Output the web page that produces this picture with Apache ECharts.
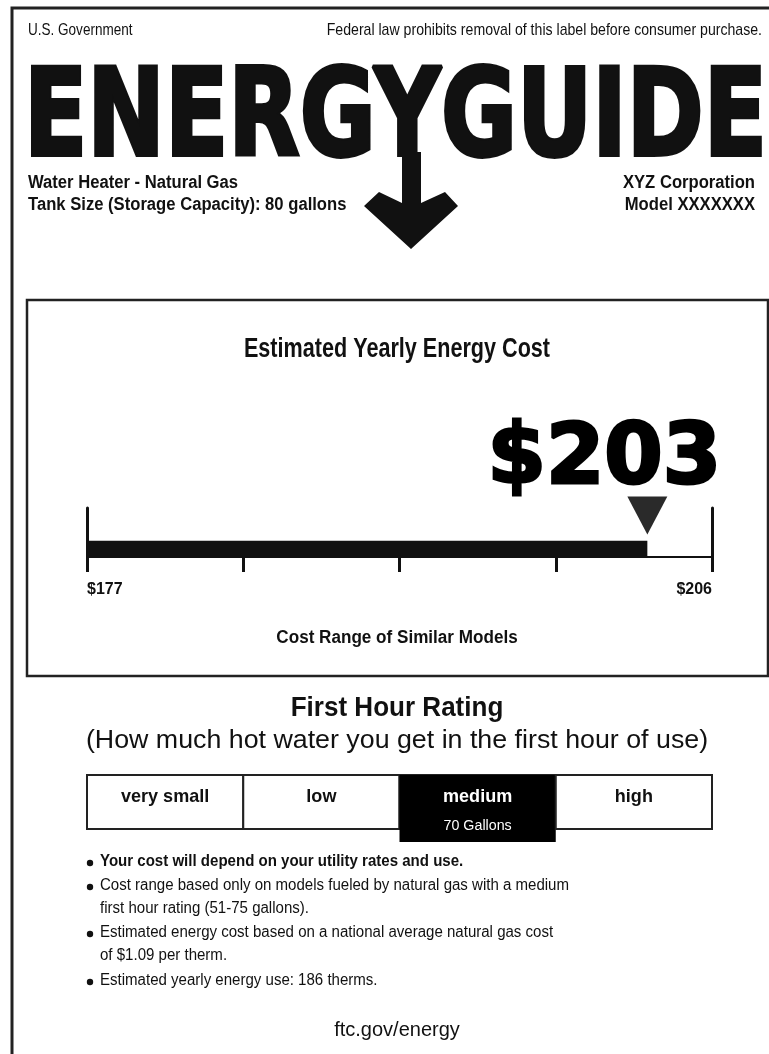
<!DOCTYPE html>
<html>
<head>
<meta charset="utf-8">
<script src="https://cdn.jsdelivr.net/npm/echarts@6/dist/echarts.min.js"></script>
<style>
  html, body { margin: 0; padding: 0; background: #fff; }
  #main { width: 769px; height: 1054px; }
</style>
</head>
<body>
<div id="main"></div>
<script>
// label values
var costMin = 177;
var costMax = 206;
var costEstimate = 203;
var costTicks = [177, 184.25, 191.5, 198.75, 206];
var ratingLevels = ['very small', 'low', 'medium', 'high'];
var ratingSelected = 'medium';
var firstHourGallons = 70;
var productLines = ['Water Heater - Natural Gas', 'Tank Size (Storage Capacity): 80 gallons'];
var makerLines = ['XYZ Corporation', 'Model XXXXXXX'];
var noteLines = [
  { text: 'Your cost will depend on your utility rates and use.', bullet: true, bold: true },
  { text: 'Cost range based only on models fueled by natural gas with a medium', bullet: true },
  { text: 'first hour rating (51-75 gallons).' },
  { text: 'Estimated energy cost based on a national average natural gas cost', bullet: true },
  { text: 'of $1.09 per therm.' },
  { text: 'Estimated yearly energy use: 186 therms.', bullet: true }
];

// no narrow font installed, so Liberation Sans gets squeezed with scaleX
var SANS = '"Liberation Sans", Arial, sans-serif';
var chart = echarts.init(document.getElementById('main'));

function txt(x, y, s, size, weight, align, sx) {
  return {
    type: 'text', x: x, y: y, scaleX: sx || 1, silent: true,
    style: {
      text: s, fontSize: size, fontWeight: weight || 'normal', fontFamily: SANS,
      fill: '#111', textAlign: align || 'left', textVerticalAlign: 'middle',
      align: align || 'left', verticalAlign: 'middle'
    }
  };
}

var graphics = [
  { type: 'rect', shape: { x: 12, y: 8, width: 775, height: 1070 }, style: { fill: 'none', stroke: '#222', lineWidth: 3 } },
  { type: 'rect', shape: { x: 27, y: 300, width: 741, height: 376 }, style: { fill: 'none', stroke: '#222', lineWidth: 2.5 } },
  txt(28, 30, 'U.S. Government', 16.5, 'normal', 'left', 0.82),
  txt(762, 30, 'Federal law prohibits removal of this label before consumer purchase.', 17, 'normal', 'right', 0.83),
  {
    type: 'text', x: 24, y: 184, scaleX: 0.76, silent: true,
    style: {
      text: 'ENERGYGUIDE', fontSize: 122, fontWeight: 'bold', fontFamily: '"DejaVu Sans", sans-serif',
      fill: '#111', stroke: '#111', lineWidth: 4,
      textAlign: 'left', align: 'left', textVerticalAlign: 'bottom', verticalAlign: 'bottom'
    }
  },
  {
    type: 'polygon', silent: true,
    shape: { points: [[402, 152], [421, 152], [421, 203], [445, 192], [458, 206], [411, 249], [364, 206], [379, 192], [402, 203]] },
    style: { fill: '#111' }
  },
  txt(28, 183, productLines[0], 17.5, 'bold', 'left', 0.95),
  txt(28, 205, productLines[1], 17.5, 'bold', 'left', 0.95),
  txt(755, 183, makerLines[0], 17.5, 'bold', 'right', 0.95),
  txt(755, 205, makerLines[1], 17.5, 'bold', 'right', 0.95),
  txt(397, 350, 'Estimated Yearly Energy Cost', 27, 'bold', 'center', 0.8),
  txt(397, 638, 'Cost Range of Similar Models', 18, 'bold', 'center', 0.95),
  txt(397, 708, 'First Hour Rating', 28, 'bold', 'center', 0.93),
  txt(397, 741, '(How much hot water you get in the first hour of use)', 26, 'normal', 'center', 1.03),
  txt(397, 1030, 'ftc.gov/energy', 20, 'normal', 'center', 1)
];

var noteY = [862, 886, 909, 933, 956, 981];
noteLines.forEach(function (n, i) {
  graphics.push(txt(100, noteY[i], n.text, 16, n.bold ? 'bold' : 'normal', 'left', 0.94));
  if (n.bullet) {
    graphics.push({ type: 'circle', silent: true, shape: { cx: 90, cy: noteY[i] + 1, r: 3.2 }, style: { fill: '#111' } });
  }
});

function renderRating(params, api) {
  var i = api.value(0);
  var level = ratingLevels[i];
  var cs = params.coordSys;
  var w = api.size([1, 0])[0];
  var cx = api.coord([i, 0])[0];
  var sel = level === ratingSelected;
  var kids = [{
    type: 'rect',
    shape: { x: cx - w / 2, y: cs.y, width: w, height: cs.height },
    style: { fill: '#fff', stroke: '#222', lineWidth: 2 }
  }];
  if (sel) {
    kids.push({ type: 'rect', shape: { x: cx - w / 2, y: cs.y, width: w, height: cs.height + 13 }, style: { fill: '#000' } });
  }
  kids.push({
    type: 'text', x: cx, y: cs.y + 22, scaleX: 0.95,
    style: {
      text: level, x: 0, y: 0, fontSize: 19, fontWeight: 'bold', fontFamily: SANS,
      fill: sel ? '#fff' : '#111', align: 'center', verticalAlign: 'middle'
    }
  });
  if (sel) {
    kids.push({
      type: 'text', x: cx, y: cs.y + 51, scaleX: 0.92,
      style: {
        text: firstHourGallons + ' Gallons', x: 0, y: 0, fontSize: 15.5, fontFamily: SANS,
        fill: '#fff', align: 'center', verticalAlign: 'middle'
      }
    });
  }
  return { type: 'group', children: kids };
}

var option = {
  animation: false,
  backgroundColor: '#fff',
  grid: [
    { left: 87, top: 508, width: 625, height: 49 },
    { left: 87, top: 775, width: 625, height: 54 }
  ],
  xAxis: [{
    gridIndex: 0,
    type: 'value',
    min: costMin,
    max: costMax,
    axisLine: { show: true, lineStyle: { color: '#111', width: 2 } },
    axisTick: { show: true, customValues: costTicks, length: 15, lineStyle: { color: '#111', width: 3 } },
    axisLabel: {
      customValues: [costMin, costMax],
      formatter: function (v) { return '$' + v; },
      alignMinLabel: 'left',
      alignMaxLabel: 'right',
      margin: 25,
      fontSize: 16, fontWeight: 'bold', fontFamily: SANS, color: '#111'
    },
    splitLine: { show: false }
  }, {
    gridIndex: 1,
    type: 'category',
    data: ratingLevels,
    show: false
  }],
  yAxis: [{
    gridIndex: 0,
    type: 'category',
    data: ['cost', '', ''],
    axisLine: { show: true, lineStyle: { color: '#111', width: 3 } },
    axisTick: { show: false },
    axisLabel: { show: false }
  }, {
    gridIndex: 0,
    type: 'category',
    position: 'right',
    data: ['cost', '', ''],
    axisLine: { show: true, lineStyle: { color: '#111', width: 3 } },
    axisTick: { show: false },
    axisLabel: { show: false }
  }, {
    gridIndex: 1,
    type: 'value',
    min: 0,
    max: 1,
    show: false
  }],
  series: [{
    type: 'bar',
    xAxisIndex: 0,
    yAxisIndex: 0,
    data: [costEstimate],
    barWidth: '100%',
    itemStyle: { color: '#111' },
    silent: true
  }, {
    type: 'scatter',
    xAxisIndex: 0,
    yAxisIndex: 0,
    data: [[costEstimate, 1]],
    symbol: 'triangle',
    symbolRotate: 180,
    symbolSize: [40, 38],
    symbolOffset: [0, -17],
    itemStyle: { color: '#2a2a2a', opacity: 1 },
    label: {
      show: true,
      position: 'top',
      distance: 0,
      offset: [-43, 7],
      formatter: function (p) { return '$' + p.value[0]; },
      fontSize: 84, fontWeight: 'bold', fontFamily: '"DejaVu Sans", sans-serif',
      color: '#000', textBorderColor: '#000', textBorderWidth: 3
    },
    silent: true
  }, {
    type: 'custom',
    xAxisIndex: 1,
    yAxisIndex: 2,
    data: ratingLevels.map(function (d, i) { return [i]; }),
    renderItem: renderRating,
    silent: true
  }],
  graphic: { elements: graphics }
};
chart.setOption(option);
</script>
</body>
</html>
